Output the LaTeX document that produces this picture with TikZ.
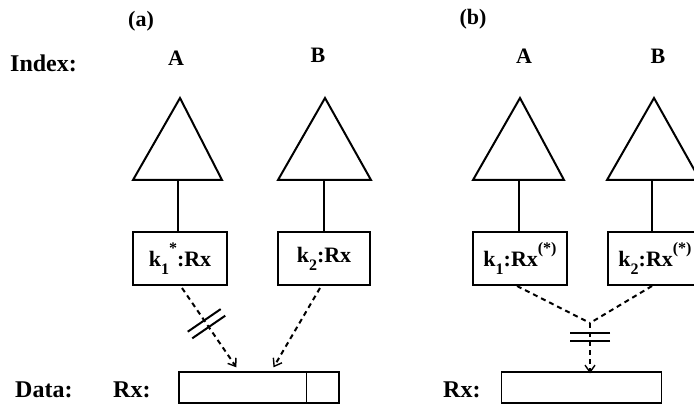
\documentclass[tikz,border=0pt]{standalone}
\usepackage{fontspec}
\setmainfont{Liberation Serif}
\usepackage{tikz}
\usetikzlibrary{positioning}
\usetikzlibrary{arrows.meta}
\usetikzlibrary{calc}
\newcommand{\subidx}[1]{\raisebox{-8pt}{\fontsize{16}{16}\selectfont #1}}
\newcommand{\supmark}[1]{\raisebox{13pt}{\fontsize{16}{16}\selectfont #1}}
\tikzset{
 node distance = 23pt and 25pt,
   lbl/.style = {%
    anchor=base west,
    inner sep=0pt,
    font=\fontsize{24}{24}\selectfont\bfseries},
treelbl/.style = {%
    anchor=base,
    inner sep=0pt,
    font=\fontsize{22}{22}\selectfont\bfseries},
   tri/.style = {%
    draw=black,
    line width=2pt,
    line join=miter},
  stem/.style = {%
    draw=black,
    line width=1.3pt},
keybox/.style = {%
    shape=rectangle,
    draw=black,
    line width=2pt,
    minimum height=53pt,
    inner sep=0pt,
    font=\fontsize{22}{22}\selectfont\bfseries},
databar/.style = {%
    shape=rectangle,
    draw=black,
    line width=1.3pt,
    minimum width=160pt,
    minimum height=31pt,
    inner sep=0pt},
   ptr/.style = {%
    draw=black,
    line width=2pt,
    dash pattern=on 5pt off 4pt,
    -{Straight Barb[length=7pt,width=10pt,line width=1.4pt]}},
cutmark/.style = {%
    sloped,
    minimum width=6pt,
    minimum height=38pt,
    inner sep=0pt},
 cutline/.style = {%
    draw=black,
    line width=2pt},
    }

\begin{document}
\begin{tikzpicture}[x=1pt,y=-1pt]
\useasboundingbox (0,0) rectangle (694,417);

% labels on the left
\node[lbl] (idx) at (10,72) {Index:};
\node[lbl] (data) at (15,397) {Data:};

% (a)
\node[anchor=base, inner sep=0pt, font=\fontsize{22}{22}\selectfont\bfseries] (capa) at (141,27) {(a)};
\node[treelbl] (aA) at (176,66) {A};
\node[treelbl] (aB) at (318,63) {B};
\draw[tri] (180,98) -- (133,180) -- (222,180) -- cycle;
\draw[tri] (325,98) -- (278,180) -- (371,180) -- cycle;
\coordinate (aAbase) at (178,180);
\coordinate (aBbase) at (324,180);
\node[keybox, minimum width=94pt] (ak1) at (180,258.5) {k\subidx{1}\supmark{*}:Rx};
\node[keybox, minimum width=92pt] (ak2) at (324,258.5) {k\subidx{2}:Rx};
\draw[stem] (aAbase) -- (aAbase |- ak1.north);
\draw[stem] (aBbase) -- (aBbase |- ak2.north);
\node[databar] (abar) at (259,387.5) {};
\node[lbl] (arx) at (113,397) {Rx:};
\draw[stem] ($(abar.north west)!0.794!(abar.north east)$) -- ($(abar.south west)!0.794!(abar.south east)$);
\draw[ptr] ([xshift=2pt,yshift=-2pt]ak1.south) -- node[cutmark, pos=0.45] (acut) {} ($(abar.north west)!0.36!(abar.north east)+(0,-4)$);
\draw[ptr] ([xshift=-4pt,yshift=-2pt]ak2.south) -- ($(abar.north west)!0.59!(abar.north east)+(0,-4)$);
\draw[cutline] (acut.north west) -- (acut.south west) (acut.north east) -- (acut.south east);

% (b)
\node[anchor=base, inner sep=0pt, font=\fontsize{22}{22}\selectfont\bfseries] (capb) at (473,25) {(b)};
\node[treelbl] (bA) at (524,64) {A};
\node[treelbl] (bB) at (658,64) {B};
\draw[tri] (520,98) -- (473,180) -- (564,180) -- cycle;
\draw[tri] (654,98) -- (607,180) -- (700,180) -- cycle;
\coordinate (bAbase) at (519,180);
\coordinate (bBbase) at (652,180);
\node[keybox, minimum width=94pt] (bk1) at (520,258.5) {k\subidx{1}:Rx\supmark{(*)}};
\node[keybox, minimum width=94pt] (bk2) at (655,258.5) {k\subidx{2}:Rx\supmark{(*)}};
\draw[stem] (bAbase) -- (bAbase |- bk1.north);
\draw[stem] (bBbase) -- (bBbase |- bk2.north);
\node[databar] (bbar) at (581.5,387.5) {};
\node[lbl] (brx) at (443,397) {Rx:};
\coordinate (bjoin) at (590,323);
\draw[ptr, -] ([xshift=-3pt]bk1.south) -- (bjoin);
\draw[ptr, -] ([xshift=-3pt]bk2.south) -- (bjoin);
\draw[ptr] (bjoin) -- node[cutmark, pos=0.27] (bcut) {} ([yshift=-2pt]bjoin |- bbar.north);
\draw[cutline] (bcut.north west) -- (bcut.south west) (bcut.north east) -- (bcut.south east);
\end{tikzpicture}
\end{document}
